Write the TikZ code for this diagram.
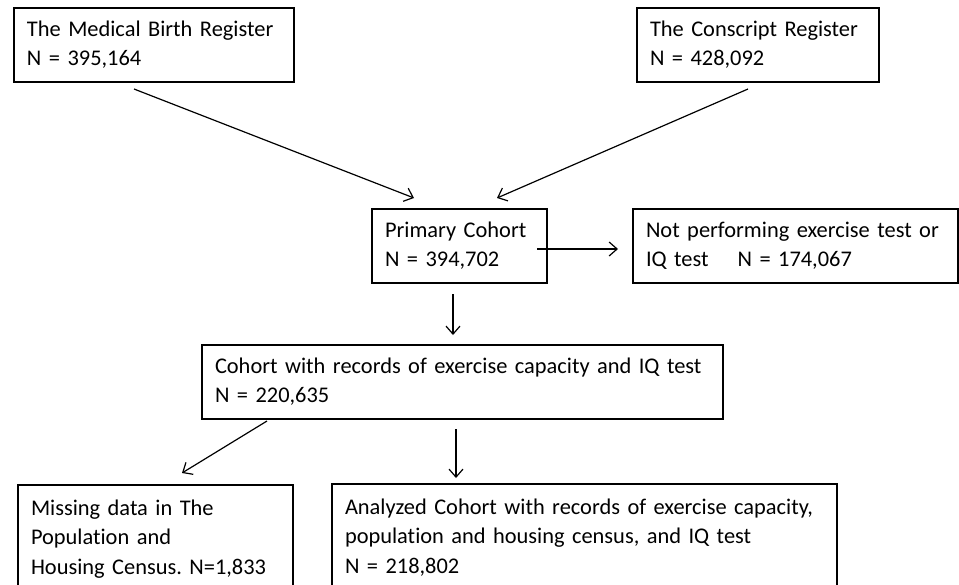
\documentclass[tikz,border=0pt]{standalone}
\usepackage{fontspec}
\setmainfont{Carlito}[Ligatures=NoCommon]
\usetikzlibrary{arrows.meta}
\frenchspacing
\tikzset{
  box/.style={draw, line width=2pt, anchor=north west, align=left,
    inner xsep=13pt, inner ysep=6pt, minimum height=74pt,
    font=\fontsize{22.4}{29.3}\selectfont},
  cut/.style={minimum height=0pt, inner ysep=15pt, text depth=140pt},
}
\begin{document}
\begin{tikzpicture}[x=1pt,y=-1pt]
      \clip (0,0) rectangle (959,584);
      \draw
        (13,7) node[box, text width=254pt] (mbr) {The Medical Birth Register\\N = 395,164}
        (636,7) node[box, text width=216pt] (csr) {The Conscript Register\\N = 428,092}
        (371,208) node[box, text width=149pt] (prim) {Primary Cohort\\N = 394,702}
        (632,208) node[box, text width=299pt] (notp) {Not performing exercise test or\\IQ test\hspace{29pt}N = 174,067}
        (201,344) node[box, text width=495pt] (coh) {Cohort with records of exercise capacity and IQ test\\N = 220,635}
        (17,484) node[box, cut, text width=249pt] (miss) {Missing data in The\\Population and\\Housing Census. N=1,833}
        (331,483) node[box, cut, text width=479pt] (anl) {Analyzed Cohort with records of exercise capacity,\\population and housing census, and IQ test\\N = 218,802};
      \begin{scope}[-{Straight Barb[length=8pt,width=14pt]}, line width=1.2pt]
        \draw ([xshift=-20pt,yshift=-6pt]mbr.south) to ([xshift=-45.5pt,yshift=10pt]prim.north);
        \draw ([xshift=-10pt,yshift=-6pt]csr.south) to ([xshift=37.5pt,yshift=10pt]prim.north);
        \draw ([xshift=-11pt,yshift=-3pt]prim.east) to ([xshift=-14pt,yshift=-3pt]notp.west);
        \draw ([xshift=-6.5pt,yshift=-10pt]prim.south) to ([xshift=-9.5pt,yshift=9pt]coh.north);
        \draw ([xshift=66pt,yshift=-1pt]coh.south west) to ([xshift=26.5pt,yshift=11pt]miss.north);
        \draw ([xshift=-6.5pt,yshift=-9pt]coh.south) to ([xshift=-128.5pt,yshift=5pt]anl.north);
      \end{scope}
    \end{tikzpicture}
\end{document}
